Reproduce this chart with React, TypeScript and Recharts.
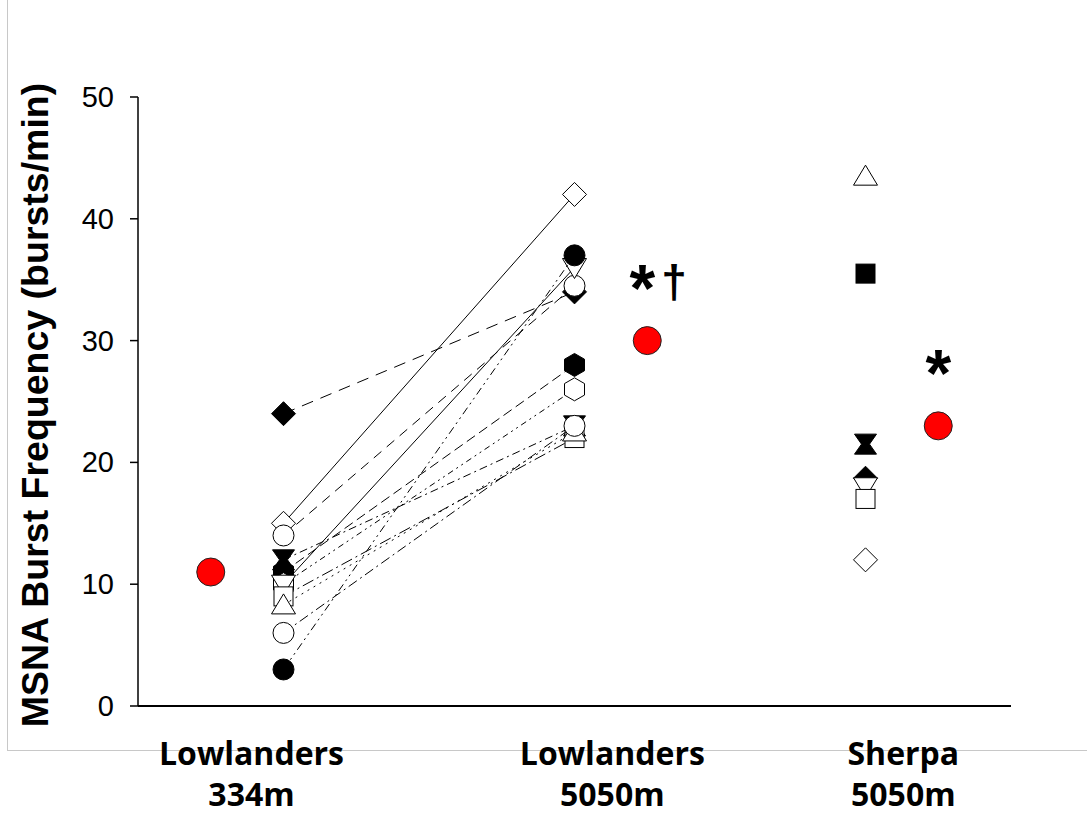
import React from "react";
import { ComposedChart, Scatter, XAxis, YAxis } from "recharts";

// x-axis categories (two-line labels)
const categoryTop = ["Lowlanders", "Lowlanders", "Sherpa"];
const categoryBottom = ["334m", "5050m", "5050m"];
const categoryTicks = [0.78, 3.26, 5.26];

// where the individual points and the group means sit on the x scale
const individualX = [1, 3, 5];
const meanX = [0.5, 3.5, 5.5];

const yTicks = [0, 10, 20, 30, 40, 50];

// lowlanders, same subject at 334 m and at 5050 m
const lowlander334 = [15, 24, 14, 12, 11, 10, 10, 9, 8.3, 6, 3];
const lowlander5050 = [42, 34, 34.5, 23, 28, 26, 36, 22, 22.5, 23, 37];

// sherpa at 5050 m
const sherpa5050 = [43.5, 35.5, 21.5, 18.7, 18, 17, 12];

// group means and significance marks
const groupMeans = [11, 30, 23];
const meanMarks = ["", "*†", "*"];

// marker styles
const lowlanderKind = ["diamond", "diamond", "circle", "hourglass", "hexagon", "hexagon", "triangleDown", "square", "triangle", "circle", "circle"];
const lowlanderFilled = [false, true, false, true, true, false, false, false, false, false, true];
const lowlanderDash = ["", "12 8", "10 7", "8 4 2 4", "10 5", "6 4 2 4 2 4", "", "12 4 2 4", "2 5", "10 4 2 4", "8 4 2 4 2 4"];
const sherpaKind = ["triangle", "square", "hourglass", "diamond", "triangleDown", "square", "diamond"];
const sherpaFilled = [false, true, true, true, false, false, false];

const FONT = "'Liberation Sans', Arial, sans-serif";

const Marker = ({ cx, cy, kind, filled }: any) => {
    if (cx == null || cy == null) return null;
    const fill = filled ? "#000" : "#fff";
    const common = { fill, stroke: "#000", strokeWidth: 1 };
    const poly = (pts: number[][]) => (
        <polygon points={pts.map(([dx, dy]) => `${cx + dx},${cy + dy}`).join(" ")} {...common} />
    );
    switch (kind) {
        case "circle":
            return <circle cx={cx} cy={cy} r={10.5} {...common} />;
        case "square":
            return <rect x={cx - 9.5} y={cy - 9.5} width={19} height={19} {...common} />;
        case "diamond":
            return poly([[0, -12], [12, 0], [0, 12], [-12, 0]]);
        case "triangle":
            return poly([[0, -11], [12, 9], [-12, 9]]);
        case "triangleDown":
            return poly([[-12, -9], [12, -9], [0, 11]]);
        case "hexagon":
            return poly([[0, -11.5], [10, -5.75], [10, 5.75], [0, 11.5], [-10, 5.75], [-10, -5.75]]);
        case "hourglass":
            return poly([[-11, -10], [11, -10], [4, 0], [11, 10], [-11, 10], [-4, 0]]);
        default:
            return null;
    }
};

const MeanDot = ({ cx, cy, payload }: any) => {
    if (cx == null || cy == null) return null;
    const mark: string = payload.mark || "";
    const hasDagger = mark.includes("†");
    return (
        <g>
            <circle cx={cx} cy={cy} r={14} fill="#ff0000" stroke="#222" strokeWidth={1} />
            {mark && (
                <text x={hasDagger ? cx - 5 : cx} textAnchor="middle" fontFamily={FONT} fontWeight="bold" fill="#000">
                    <tspan y={cy - 30} fontSize={66}>*</tspan>
                    {hasDagger && (
                        <tspan y={cy - 43} dx={6} fontSize={46}>†</tspan>
                    )}
                </text>
            )}
        </g>
    );
};

const CategoryTick = ({ x, y, payload }: any) => {
    const i = categoryTicks.indexOf(payload.value);
    if (i < 0) return null;
    return (
        <text x={x} textAnchor="middle" fontFamily="'Open Sans', sans-serif" fontWeight="bold" fontSize={32} fill="#000">
            <tspan x={x} y={y + 51}>{categoryTop[i]}</tspan>
            <tspan x={x} y={y + 92}>{categoryBottom[i]}</tspan>
        </text>
    );
};

const ValueTick = ({ x, y, payload }: any) => (
    <text x={x} y={y} dy={10} textAnchor="end" fontFamily={FONT} fontSize={29} fill="#000">
        {payload.value}
    </text>
);

const YTitle = () => (
    <text x={48} y={405} transform="rotate(-90 48 405)" textAnchor="middle" fontFamily={FONT} fontWeight="bold" fontSize={37.5} fill="#000">
        MSNA Burst Frequency (bursts/min)
    </text>
);

export default function App() {
    const subjects = lowlander334.map((v, i) => ({
        data: [
            { x: individualX[0], y: v },
            { x: individualX[1], y: lowlander5050[i] },
        ],
        kind: lowlanderKind[i],
        filled: lowlanderFilled[i],
        dash: lowlanderDash[i],
    }));
    const sherpaData = sherpa5050.map((v, i) => ({ x: individualX[2], y: v, kind: sherpaKind[i], filled: sherpaFilled[i] }));
    const meanData = groupMeans.map((v, i) => ({ x: meanX[i], y: v, mark: meanMarks[i] }));

    return (
        <div style={{ position: "absolute", left: 0, top: 0, width: 1087, height: 814, background: "#fff" }}>
            <div
                style={{
                    position: "absolute",
                    left: 7,
                    top: 0,
                    width: 1080,
                    height: 750,
                    borderLeft: "1px solid #c8c8c8",
                    borderBottom: "1px solid #c8c8c8",
                    pointerEvents: "none",
                }}
            />
            <ComposedChart width={1087} height={814} margin={{ top: 97, right: 76, bottom: 0, left: 0 }}>
                <XAxis
                    type="number"
                    dataKey="x"
                    domain={[0, 6]}
                    ticks={categoryTicks}
                    tickLine={false}
                    axisLine={{ stroke: "#000", strokeWidth: 2 }}
                    tick={<CategoryTick />}
                    height={108}
                    interval={0}
                />
                <YAxis
                    type="number"
                    dataKey="y"
                    domain={[0, 50]}
                    ticks={yTicks}
                    width={138}
                    tickSize={8}
                    tickMargin={16}
                    axisLine={{ stroke: "#000", strokeWidth: 1.5 }}
                    tickLine={{ stroke: "#000", strokeWidth: 1.5 }}
                    tick={<ValueTick />}
                    label={<YTitle />}
                />
                {subjects.map((s, i) => (
                    <Scatter
                        key={`s${i}`}
                        data={s.data}
                        fill="#000"
                        line={s.dash ? { stroke: "#000", strokeWidth: 1, strokeDasharray: s.dash } : { stroke: "#000", strokeWidth: 1 }}
                        shape={(p: any) => <Marker cx={p.cx} cy={p.cy} kind={s.kind} filled={s.filled} />}
                        isAnimationActive={false}
                    />
                ))}
                <Scatter
                    data={sherpaData}
                    fill="#000"
                    shape={(p: any) => <Marker cx={p.cx} cy={p.cy} kind={p.payload.kind} filled={p.payload.filled} />}
                    isAnimationActive={false}
                />
                <Scatter data={meanData} fill="#ff0000" shape={(p: any) => <MeanDot {...p} />} isAnimationActive={false} />
            </ComposedChart>
        </div>
    );
}
